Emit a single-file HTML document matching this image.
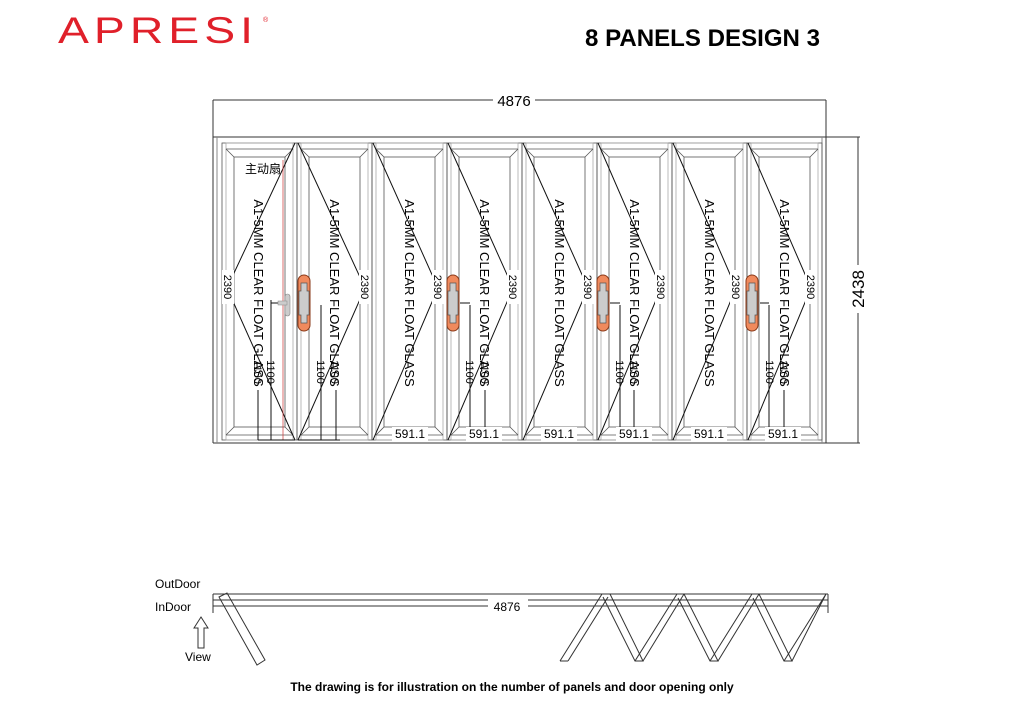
<!DOCTYPE html>
<html><head><meta charset="utf-8"><style>
html,body{margin:0;padding:0;background:#fff;}
svg{display:block;}
text{font-family:"Liberation Sans","Noto Sans CJK SC",sans-serif;}
</style></head><body>
<svg width="1024" height="724" viewBox="0 0 1024 724" xmlns="http://www.w3.org/2000/svg">
<text x="58" y="43" font-size="37" fill="#e0202a" letter-spacing="4" textLength="200" lengthAdjust="spacingAndGlyphs">APRESI</text>
<text x="263" y="22" font-size="7" fill="#e0202a">®</text>
<text x="585" y="46" font-size="24" font-weight="bold" textLength="235" lengthAdjust="spacingAndGlyphs">8 PANELS DESIGN 3</text>

<g stroke="#333" fill="none" stroke-width="1">
<!-- top dimension -->
<line x1="213" y1="100" x2="826" y2="100"/>
<line x1="213" y1="100" x2="213" y2="443"/>
<line x1="826" y1="100" x2="826" y2="443"/>
<line x1="213" y1="137" x2="860" y2="137"/>
<line x1="213" y1="443" x2="860" y2="443"/>
<line x1="858" y1="137" x2="858" y2="443"/>
<line x1="217" y1="137" x2="217" y2="443" stroke="#888"/>
<line x1="822" y1="137" x2="822" y2="443" stroke="#888"/>
</g>
<rect x="493" y="92" width="42" height="16" fill="#fff"/>
<text x="514" y="106" font-size="15" text-anchor="middle">4876</text>
<rect x="850" y="265" width="16" height="48" fill="#fff"/>
<text transform="translate(864,289) rotate(-90)" font-size="17" text-anchor="middle">2438</text>

<defs>
<g id="pf" stroke="#555" fill="none" stroke-width="0.8">
<rect x="0" y="0" width="75" height="297"/>
<rect x="4" y="0" width="67" height="297" stroke="#aaa"/>
<rect x="12" y="14" width="51" height="270"/>
<line x1="4" y1="6" x2="12" y2="14"/><line x1="71" y1="6" x2="63" y2="14"/>
<line x1="4" y1="292" x2="12" y2="284"/><line x1="71" y1="292" x2="63" y2="284"/>
<line x1="4" y1="6" x2="71" y2="6"/><line x1="4" y1="292" x2="71" y2="292"/>
</g>
<g id="gl">
<text font-size="13" text-anchor="middle" transform="rotate(90)">A1-5MM CLEAR FLOAT GLASS</text>
</g>
<g id="h">
<rect x="-6" y="-28" width="12" height="56" rx="6" fill="#f08a5d" stroke="#8a3a1a" stroke-width="1"/>
<path d="M-3,-20 h6 v8 h2 v24 h-2 v8 h-6 v-8 h-2 v-24 h2z" fill="#ccc" stroke="#555" stroke-width="0.7"/>
</g>
</defs>

<g transform="translate(222,143)"><use href="#pf"/></g>
<g transform="translate(297,143)"><use href="#pf"/></g>
<g transform="translate(372,143)"><use href="#pf"/></g>
<g transform="translate(447,143)"><use href="#pf"/></g>
<g transform="translate(522,143)"><use href="#pf"/></g>
<g transform="translate(597,143)"><use href="#pf"/></g>
<g transform="translate(672,143)"><use href="#pf"/></g>
<g transform="translate(747,143)"><use href="#pf"/></g>

<!-- diagonals -->
<g stroke="#111" fill="none" stroke-width="1">
<polyline points="295,143 227,288 295,440"/>
<polyline points="298,143 365,288 298,440"/>
<polyline points="373,143 438,288 373,440"/>
<polyline points="448,143 513,288 448,440"/>
<polyline points="523,143 588,288 523,440"/>
<polyline points="598,143 661,288 598,440"/>
<polyline points="673,143 736,288 673,440"/>
<polyline points="748,143 811,288 748,440"/>
<line x1="283" y1="160" x2="283" y2="440" stroke="#c33" stroke-width="0.7"/>
</g>

<!-- 2390 labels -->
<g font-size="11">
<rect x="222" y="270" width="12" height="34" fill="#fff"/><text transform="translate(224,287) rotate(90)" text-anchor="middle">2390</text>
<rect x="359" y="270" width="12" height="34" fill="#fff"/><text transform="translate(361,287) rotate(90)" text-anchor="middle">2390</text>
<rect x="432" y="270" width="12" height="34" fill="#fff"/><text transform="translate(434,287) rotate(90)" text-anchor="middle">2390</text>
<rect x="507" y="270" width="12" height="34" fill="#fff"/><text transform="translate(509,287) rotate(90)" text-anchor="middle">2390</text>
<rect x="582" y="270" width="12" height="34" fill="#fff"/><text transform="translate(584,287) rotate(90)" text-anchor="middle">2390</text>
<rect x="655" y="270" width="12" height="34" fill="#fff"/><text transform="translate(657,287) rotate(90)" text-anchor="middle">2390</text>
<rect x="730" y="270" width="12" height="34" fill="#fff"/><text transform="translate(732,287) rotate(90)" text-anchor="middle">2390</text>
<rect x="805" y="270" width="12" height="34" fill="#fff"/><text transform="translate(807,287) rotate(90)" text-anchor="middle">2390</text>
</g>

<!-- glass text -->
<g transform="translate(254,293)"><use href="#gl"/></g>
<g transform="translate(330,293)"><use href="#gl"/></g>
<g transform="translate(405,293)"><use href="#gl"/></g>
<g transform="translate(480,293)"><use href="#gl"/></g>
<g transform="translate(555,293)"><use href="#gl"/></g>
<g transform="translate(630,293)"><use href="#gl"/></g>
<g transform="translate(705,293)"><use href="#gl"/></g>
<g transform="translate(780,293)"><use href="#gl"/></g>

<!-- 1100 dims -->
<g stroke="#111" stroke-width="1">
<line x1="258" y1="390" x2="258" y2="440"/><line x1="271" y1="300" x2="271" y2="440"/><line x1="258" y1="440" x2="295" y2="440"/>
<line x1="321" y1="305" x2="321" y2="440"/><line x1="336" y1="390" x2="336" y2="440"/><line x1="298" y1="440" x2="340" y2="440"/>
<line x1="470" y1="305" x2="470" y2="440"/><line x1="485" y1="390" x2="485" y2="440"/>
<line x1="620" y1="305" x2="620" y2="440"/><line x1="634" y1="390" x2="634" y2="440"/>
<line x1="769" y1="305" x2="769" y2="440"/><line x1="784" y1="390" x2="784" y2="440"/>
<line x1="271" y1="303" x2="290" y2="303"/>
<line x1="610" y1="303" x2="620" y2="303"/><line x1="760" y1="303" x2="769" y2="303"/><line x1="460" y1="303" x2="470" y2="303"/>
</g>
<g font-size="11">
<text transform="translate(254,372) rotate(90)" text-anchor="middle">1100</text>
<text transform="translate(267,372) rotate(90)" text-anchor="middle">1100</text>
<text transform="translate(317,372) rotate(90)" text-anchor="middle">1100</text>
<text transform="translate(331,372) rotate(90)" text-anchor="middle">1100</text>
<text transform="translate(466,372) rotate(90)" text-anchor="middle">1100</text>
<text transform="translate(481,372) rotate(90)" text-anchor="middle">1100</text>
<text transform="translate(616,372) rotate(90)" text-anchor="middle">1100</text>
<text transform="translate(630,372) rotate(90)" text-anchor="middle">1100</text>
<text transform="translate(766,372) rotate(90)" text-anchor="middle">1100</text>
<text transform="translate(780,372) rotate(90)" text-anchor="middle">1100</text>
</g>
<!-- 591.1 -->
<g font-size="12">
<rect x="392" y="427" width="36" height="14" fill="#fff"/><text x="410" y="438" text-anchor="middle">591.1</text>
<rect x="466" y="427" width="36" height="14" fill="#fff"/><text x="484" y="438" text-anchor="middle">591.1</text>
<rect x="541" y="427" width="36" height="14" fill="#fff"/><text x="559" y="438" text-anchor="middle">591.1</text>
<rect x="616" y="427" width="36" height="14" fill="#fff"/><text x="634" y="438" text-anchor="middle">591.1</text>
<rect x="691" y="427" width="36" height="14" fill="#fff"/><text x="709" y="438" text-anchor="middle">591.1</text>
<rect x="765" y="427" width="36" height="14" fill="#fff"/><text x="783" y="438" text-anchor="middle">591.1</text>
</g>

<!-- handles -->
<g transform="translate(304,303)"><use href="#h"/></g>
<g transform="translate(453,303)"><use href="#h"/></g>
<g transform="translate(603,303)"><use href="#h"/></g>
<g transform="translate(752,303)"><use href="#h"/></g>
<rect x="285" y="294" width="5" height="22" rx="2.5" fill="#ccc" stroke="#888" stroke-width="0.6"/>
<rect x="278" y="301" width="9" height="4" fill="#ccc" stroke="#888" stroke-width="0.5"/>

<text x="245" y="173" font-size="12">主动扇</text>

<!-- plan view -->
<g stroke="#333" fill="none" stroke-width="1">
<line x1="213" y1="594" x2="828" y2="594"/>
<line x1="213" y1="600" x2="828" y2="600"/>
<line x1="213" y1="606" x2="828" y2="606"/>
<line x1="213" y1="594" x2="213" y2="613"/>
<line x1="828" y1="594" x2="828" y2="613"/>
<polygon points="219,597 227,593 265,660 257,665"/>
<polyline points="560,661 602,594 610,594"/>
<polyline points="568,661 608,597"/>
<line x1="560" y1="661" x2="568" y2="661"/>
<polyline points="610,594 643,661 635,661 603,597"/>
<polyline points="635,661 677,594 684,594 643,661"/>
<polyline points="684,594 718,661 710,661 678,598"/>
<polyline points="710,661 752,594 759,594 718,661"/>
<polyline points="759,594 792,661 784,661 753,598"/>
<polyline points="784,661 826,594 792,661"/>
</g>
<rect x="488" y="599" width="40" height="14" fill="#fff"/>
<text x="507" y="611" font-size="12" text-anchor="middle">4876</text>
<text x="155" y="588" font-size="12">OutDoor</text>
<text x="155" y="611" font-size="12">InDoor</text>
<path d="M201,617 L208,628 L204,628 L204,648 L198,648 L198,628 L194,628 Z" fill="none" stroke="#333" stroke-width="1"/>
<text x="185" y="661" font-size="12">View</text>

<text x="512" y="691" font-size="12" font-weight="bold" text-anchor="middle">The drawing is for illustration on the number of panels and door opening only</text>
</svg>
</body></html>
